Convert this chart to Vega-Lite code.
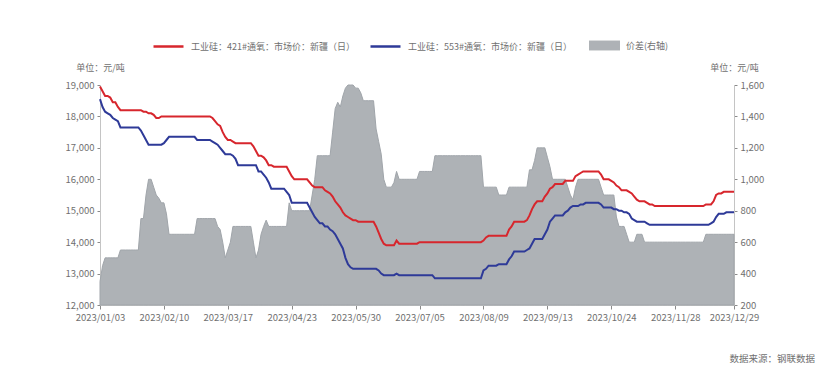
{
"$schema": "https://vega.github.io/schema/vega-lite/v6.json",
"width": 634, "height": 220,
"autosize": "none",
"padding": {"left": 100, "top": 85, "right": 97, "bottom": 66},
"background": "white",
"config": {"font": "Noto Sans CJK SC", "view": {"stroke": null}, "axis": {"grid": false, "labelFontSize": 9.5, "labelColor": "#707070", "domainColor": "#c4c4c4", "tickColor": "#8a8a8a", "tickSize": 3, "titleFontSize": 9, "titleFontWeight": "normal", "titleColor": "#707070"}, "legend": {"labelFontSize": 9, "labelColor": "#707070", "labelOffset": 6, "labelLimit": 400, "title": null, "orient": "none"}},
"title": {"text": "数据来源：钢联数据", "orient": "bottom", "anchor": "end", "frame": "group", "fontSize": 9.5, "fontWeight": "normal", "color": "#707070", "dx": 81, "offset": 32},
"data": {"values": [
{"date":"2023/01/03","p421":18950,"p553":18550,"spread":350},
{"date":"2023/01/04","p421":18800,"p553":18300,"spread":450},
{"date":"2023/01/05","p421":18650,"p553":18150,"spread":500},
{"date":"2023/01/06","p421":18650,"p553":18100,"spread":500},
{"date":"2023/01/09","p421":18600,"p553":18050,"spread":500},
{"date":"2023/01/10","p421":18450,"p553":17950,"spread":500},
{"date":"2023/01/11","p421":18450,"p553":17900,"spread":500},
{"date":"2023/01/12","p421":18300,"p553":17850,"spread":500},
{"date":"2023/01/13","p421":18200,"p553":17650,"spread":550},
{"date":"2023/01/16","p421":18200,"p553":17650,"spread":550},
{"date":"2023/01/17","p421":18200,"p553":17650,"spread":550},
{"date":"2023/01/18","p421":18200,"p553":17650,"spread":550},
{"date":"2023/01/19","p421":18200,"p553":17650,"spread":550},
{"date":"2023/01/20","p421":18200,"p553":17650,"spread":550},
{"date":"2023/01/28","p421":18200,"p553":17650,"spread":550},
{"date":"2023/01/29","p421":18200,"p553":17650,"spread":550},
{"date":"2023/01/30","p421":18200,"p553":17550,"spread":750},
{"date":"2023/01/31","p421":18150,"p553":17400,"spread":750},
{"date":"2023/02/01","p421":18150,"p553":17250,"spread":900},
{"date":"2023/02/02","p421":18100,"p553":17100,"spread":1000},
{"date":"2023/02/03","p421":18100,"p553":17100,"spread":1000},
{"date":"2023/02/06","p421":18050,"p553":17100,"spread":950},
{"date":"2023/02/07","p421":17950,"p553":17100,"spread":900},
{"date":"2023/02/08","p421":17950,"p553":17100,"spread":880},
{"date":"2023/02/09","p421":18000,"p553":17100,"spread":850},
{"date":"2023/02/10","p421":18000,"p553":17150,"spread":850},
{"date":"2023/02/13","p421":18000,"p553":17250,"spread":780},
{"date":"2023/02/14","p421":18000,"p553":17350,"spread":650},
{"date":"2023/02/15","p421":18000,"p553":17350,"spread":650},
{"date":"2023/02/16","p421":18000,"p553":17350,"spread":650},
{"date":"2023/02/17","p421":18000,"p553":17350,"spread":650},
{"date":"2023/02/20","p421":18000,"p553":17350,"spread":650},
{"date":"2023/02/21","p421":18000,"p553":17350,"spread":650},
{"date":"2023/02/22","p421":18000,"p553":17350,"spread":650},
{"date":"2023/02/23","p421":18000,"p553":17350,"spread":650},
{"date":"2023/02/24","p421":18000,"p553":17350,"spread":650},
{"date":"2023/02/27","p421":18000,"p553":17350,"spread":650},
{"date":"2023/02/28","p421":18000,"p553":17350,"spread":650},
{"date":"2023/03/01","p421":18000,"p553":17250,"spread":750},
{"date":"2023/03/02","p421":18000,"p553":17250,"spread":750},
{"date":"2023/03/03","p421":18000,"p553":17250,"spread":750},
{"date":"2023/03/06","p421":18000,"p553":17250,"spread":750},
{"date":"2023/03/07","p421":18000,"p553":17250,"spread":750},
{"date":"2023/03/08","p421":18000,"p553":17250,"spread":750},
{"date":"2023/03/09","p421":17950,"p553":17200,"spread":750},
{"date":"2023/03/10","p421":17850,"p553":17150,"spread":750},
{"date":"2023/03/13","p421":17750,"p553":17100,"spread":700},
{"date":"2023/03/14","p421":17700,"p553":17000,"spread":680},
{"date":"2023/03/15","p421":17500,"p553":16900,"spread":600},
{"date":"2023/03/16","p421":17350,"p553":16800,"spread":500},
{"date":"2023/03/17","p421":17250,"p553":16800,"spread":550},
{"date":"2023/03/20","p421":17250,"p553":16800,"spread":600},
{"date":"2023/03/21","p421":17200,"p553":16750,"spread":700},
{"date":"2023/03/22","p421":17150,"p553":16650,"spread":700},
{"date":"2023/03/23","p421":17150,"p553":16450,"spread":700},
{"date":"2023/03/24","p421":17150,"p553":16450,"spread":700},
{"date":"2023/03/27","p421":17150,"p553":16450,"spread":700},
{"date":"2023/03/28","p421":17150,"p553":16450,"spread":700},
{"date":"2023/03/29","p421":17150,"p553":16450,"spread":700},
{"date":"2023/03/30","p421":17150,"p553":16450,"spread":700},
{"date":"2023/03/31","p421":17050,"p553":16450,"spread":600},
{"date":"2023/04/03","p421":16900,"p553":16450,"spread":500},
{"date":"2023/04/04","p421":16750,"p553":16250,"spread":550},
{"date":"2023/04/06","p421":16750,"p553":16250,"spread":650},
{"date":"2023/04/07","p421":16700,"p553":16150,"spread":700},
{"date":"2023/04/10","p421":16600,"p553":16050,"spread":740},
{"date":"2023/04/11","p421":16450,"p553":15900,"spread":700},
{"date":"2023/04/12","p421":16450,"p553":15700,"spread":700},
{"date":"2023/04/13","p421":16400,"p553":15700,"spread":700},
{"date":"2023/04/14","p421":16400,"p553":15700,"spread":700},
{"date":"2023/04/17","p421":16400,"p553":15700,"spread":700},
{"date":"2023/04/18","p421":16400,"p553":15700,"spread":700},
{"date":"2023/04/19","p421":16400,"p553":15700,"spread":700},
{"date":"2023/04/20","p421":16400,"p553":15600,"spread":700},
{"date":"2023/04/21","p421":16250,"p553":15500,"spread":850},
{"date":"2023/04/23","p421":16100,"p553":15250,"spread":800},
{"date":"2023/04/24","p421":16000,"p553":15250,"spread":800},
{"date":"2023/04/25","p421":16000,"p553":15250,"spread":800},
{"date":"2023/04/26","p421":16000,"p553":15250,"spread":800},
{"date":"2023/04/27","p421":16000,"p553":15250,"spread":800},
{"date":"2023/04/28","p421":16000,"p553":15250,"spread":800},
{"date":"2023/05/04","p421":16000,"p553":15250,"spread":800},
{"date":"2023/05/05","p421":15900,"p553":15100,"spread":800},
{"date":"2023/05/06","p421":15800,"p553":14950,"spread":900},
{"date":"2023/05/08","p421":15750,"p553":14800,"spread":1000},
{"date":"2023/05/09","p421":15750,"p553":14700,"spread":1150},
{"date":"2023/05/10","p421":15750,"p553":14600,"spread":1150},
{"date":"2023/05/11","p421":15750,"p553":14600,"spread":1150},
{"date":"2023/05/12","p421":15650,"p553":14500,"spread":1150},
{"date":"2023/05/15","p421":15600,"p553":14500,"spread":1150},
{"date":"2023/05/16","p421":15550,"p553":14400,"spread":1150},
{"date":"2023/05/17","p421":15450,"p553":14350,"spread":1300},
{"date":"2023/05/18","p421":15300,"p553":14250,"spread":1450},
{"date":"2023/05/19","p421":15200,"p553":14100,"spread":1490},
{"date":"2023/05/22","p421":15100,"p553":13950,"spread":1460},
{"date":"2023/05/23","p421":14950,"p553":13800,"spread":1530},
{"date":"2023/05/24","p421":14850,"p553":13500,"spread":1580},
{"date":"2023/05/25","p421":14800,"p553":13300,"spread":1600},
{"date":"2023/05/26","p421":14750,"p553":13200,"spread":1600},
{"date":"2023/05/29","p421":14700,"p553":13150,"spread":1600},
{"date":"2023/05/30","p421":14700,"p553":13150,"spread":1580},
{"date":"2023/05/31","p421":14650,"p553":13150,"spread":1580},
{"date":"2023/06/01","p421":14650,"p553":13150,"spread":1550},
{"date":"2023/06/02","p421":14650,"p553":13150,"spread":1500},
{"date":"2023/06/05","p421":14650,"p553":13150,"spread":1500},
{"date":"2023/06/06","p421":14650,"p553":13150,"spread":1500},
{"date":"2023/06/07","p421":14650,"p553":13150,"spread":1500},
{"date":"2023/06/08","p421":14650,"p553":13150,"spread":1500},
{"date":"2023/06/09","p421":14500,"p553":13150,"spread":1320},
{"date":"2023/06/12","p421":14300,"p553":13100,"spread":1240},
{"date":"2023/06/13","p421":14100,"p553":13000,"spread":1160},
{"date":"2023/06/14","p421":13950,"p553":12950,"spread":1000},
{"date":"2023/06/15","p421":13900,"p553":12950,"spread":950},
{"date":"2023/06/16","p421":13900,"p553":12950,"spread":950},
{"date":"2023/06/19","p421":13900,"p553":12950,"spread":950},
{"date":"2023/06/20","p421":13900,"p553":12950,"spread":980},
{"date":"2023/06/21","p421":14050,"p553":13000,"spread":1050},
{"date":"2023/06/25","p421":13950,"p553":12950,"spread":1000},
{"date":"2023/06/26","p421":13950,"p553":12950,"spread":1000},
{"date":"2023/06/27","p421":13950,"p553":12950,"spread":1000},
{"date":"2023/06/28","p421":13950,"p553":12950,"spread":1000},
{"date":"2023/06/29","p421":13950,"p553":12950,"spread":1000},
{"date":"2023/06/30","p421":13950,"p553":12950,"spread":1000},
{"date":"2023/07/03","p421":13950,"p553":12950,"spread":1000},
{"date":"2023/07/04","p421":13950,"p553":12950,"spread":1000},
{"date":"2023/07/05","p421":14000,"p553":12950,"spread":1050},
{"date":"2023/07/06","p421":14000,"p553":12950,"spread":1050},
{"date":"2023/07/07","p421":14000,"p553":12950,"spread":1050},
{"date":"2023/07/10","p421":14000,"p553":12950,"spread":1050},
{"date":"2023/07/11","p421":14000,"p553":12950,"spread":1050},
{"date":"2023/07/12","p421":14000,"p553":12950,"spread":1050},
{"date":"2023/07/13","p421":14000,"p553":12850,"spread":1150},
{"date":"2023/07/14","p421":14000,"p553":12850,"spread":1150},
{"date":"2023/07/17","p421":14000,"p553":12850,"spread":1150},
{"date":"2023/07/18","p421":14000,"p553":12850,"spread":1150},
{"date":"2023/07/19","p421":14000,"p553":12850,"spread":1150},
{"date":"2023/07/20","p421":14000,"p553":12850,"spread":1150},
{"date":"2023/07/21","p421":14000,"p553":12850,"spread":1150},
{"date":"2023/07/24","p421":14000,"p553":12850,"spread":1150},
{"date":"2023/07/25","p421":14000,"p553":12850,"spread":1150},
{"date":"2023/07/26","p421":14000,"p553":12850,"spread":1150},
{"date":"2023/07/27","p421":14000,"p553":12850,"spread":1150},
{"date":"2023/07/28","p421":14000,"p553":12850,"spread":1150},
{"date":"2023/07/31","p421":14000,"p553":12850,"spread":1150},
{"date":"2023/08/01","p421":14000,"p553":12850,"spread":1150},
{"date":"2023/08/02","p421":14000,"p553":12850,"spread":1150},
{"date":"2023/08/03","p421":14000,"p553":12850,"spread":1150},
{"date":"2023/08/04","p421":14000,"p553":12850,"spread":1150},
{"date":"2023/08/07","p421":14000,"p553":12850,"spread":1150},
{"date":"2023/08/08","p421":14000,"p553":12850,"spread":1150},
{"date":"2023/08/09","p421":14050,"p553":13100,"spread":950},
{"date":"2023/08/10","p421":14150,"p553":13150,"spread":950},
{"date":"2023/08/11","p421":14200,"p553":13250,"spread":950},
{"date":"2023/08/14","p421":14200,"p553":13250,"spread":950},
{"date":"2023/08/15","p421":14200,"p553":13250,"spread":950},
{"date":"2023/08/16","p421":14200,"p553":13250,"spread":950},
{"date":"2023/08/17","p421":14200,"p553":13300,"spread":900},
{"date":"2023/08/18","p421":14200,"p553":13300,"spread":900},
{"date":"2023/08/21","p421":14200,"p553":13300,"spread":900},
{"date":"2023/08/22","p421":14200,"p553":13300,"spread":900},
{"date":"2023/08/23","p421":14400,"p553":13450,"spread":950},
{"date":"2023/08/24","p421":14500,"p553":13550,"spread":950},
{"date":"2023/08/25","p421":14650,"p553":13700,"spread":950},
{"date":"2023/08/28","p421":14650,"p553":13700,"spread":950},
{"date":"2023/08/29","p421":14650,"p553":13700,"spread":950},
{"date":"2023/08/30","p421":14650,"p553":13700,"spread":950},
{"date":"2023/08/31","p421":14650,"p553":13700,"spread":950},
{"date":"2023/09/01","p421":14700,"p553":13750,"spread":950},
{"date":"2023/09/04","p421":14850,"p553":13800,"spread":1060},
{"date":"2023/09/05","p421":15050,"p553":13950,"spread":1060},
{"date":"2023/09/06","p421":15200,"p553":14100,"spread":1120},
{"date":"2023/09/07","p421":15300,"p553":14100,"spread":1200},
{"date":"2023/09/08","p421":15300,"p553":14100,"spread":1200},
{"date":"2023/09/11","p421":15300,"p553":14100,"spread":1200},
{"date":"2023/09/12","p421":15450,"p553":14250,"spread":1200},
{"date":"2023/09/13","p421":15550,"p553":14400,"spread":1140},
{"date":"2023/09/14","p421":15700,"p553":14650,"spread":1080},
{"date":"2023/09/15","p421":15750,"p553":14750,"spread":1000},
{"date":"2023/09/18","p421":15850,"p553":14850,"spread":1000},
{"date":"2023/09/19","p421":15850,"p553":14850,"spread":1000},
{"date":"2023/09/20","p421":15850,"p553":14850,"spread":1000},
{"date":"2023/09/21","p421":15850,"p553":14850,"spread":1000},
{"date":"2023/09/22","p421":15950,"p553":14950,"spread":1000},
{"date":"2023/09/25","p421":15950,"p553":15000,"spread":950},
{"date":"2023/09/26","p421":15950,"p553":15100,"spread":900},
{"date":"2023/09/27","p421":15950,"p553":15150,"spread":870},
{"date":"2023/09/28","p421":16100,"p553":15150,"spread":950},
{"date":"2023/10/07","p421":16150,"p553":15150,"spread":1000},
{"date":"2023/10/08","p421":16200,"p553":15200,"spread":1000},
{"date":"2023/10/09","p421":16250,"p553":15200,"spread":1000},
{"date":"2023/10/10","p421":16250,"p553":15250,"spread":1000},
{"date":"2023/10/11","p421":16250,"p553":15250,"spread":1000},
{"date":"2023/10/12","p421":16250,"p553":15250,"spread":1000},
{"date":"2023/10/13","p421":16250,"p553":15250,"spread":1000},
{"date":"2023/10/16","p421":16250,"p553":15250,"spread":1000},
{"date":"2023/10/17","p421":16250,"p553":15250,"spread":1000},
{"date":"2023/10/18","p421":16150,"p553":15200,"spread":950},
{"date":"2023/10/19","p421":16000,"p553":15100,"spread":900},
{"date":"2023/10/20","p421":16000,"p553":15100,"spread":900},
{"date":"2023/10/23","p421":16000,"p553":15100,"spread":900},
{"date":"2023/10/24","p421":15950,"p553":15100,"spread":900},
{"date":"2023/10/25","p421":15900,"p553":15050,"spread":900},
{"date":"2023/10/26","p421":15800,"p553":15050,"spread":760},
{"date":"2023/10/27","p421":15750,"p553":15000,"spread":700},
{"date":"2023/10/30","p421":15650,"p553":15000,"spread":700},
{"date":"2023/10/31","p421":15650,"p553":14950,"spread":700},
{"date":"2023/11/01","p421":15650,"p553":14950,"spread":650},
{"date":"2023/11/02","p421":15600,"p553":14900,"spread":600},
{"date":"2023/11/03","p421":15550,"p553":14750,"spread":600},
{"date":"2023/11/06","p421":15450,"p553":14700,"spread":600},
{"date":"2023/11/07","p421":15350,"p553":14650,"spread":650},
{"date":"2023/11/08","p421":15300,"p553":14650,"spread":650},
{"date":"2023/11/09","p421":15300,"p553":14650,"spread":650},
{"date":"2023/11/10","p421":15300,"p553":14650,"spread":600},
{"date":"2023/11/13","p421":15250,"p553":14600,"spread":600},
{"date":"2023/11/14","p421":15200,"p553":14550,"spread":600},
{"date":"2023/11/15","p421":15200,"p553":14550,"spread":600},
{"date":"2023/11/16","p421":15150,"p553":14550,"spread":600},
{"date":"2023/11/17","p421":15150,"p553":14550,"spread":600},
{"date":"2023/11/20","p421":15150,"p553":14550,"spread":600},
{"date":"2023/11/21","p421":15150,"p553":14550,"spread":600},
{"date":"2023/11/22","p421":15150,"p553":14550,"spread":600},
{"date":"2023/11/23","p421":15150,"p553":14550,"spread":600},
{"date":"2023/11/24","p421":15150,"p553":14550,"spread":600},
{"date":"2023/11/27","p421":15150,"p553":14550,"spread":600},
{"date":"2023/11/28","p421":15150,"p553":14550,"spread":600},
{"date":"2023/11/29","p421":15150,"p553":14550,"spread":600},
{"date":"2023/11/30","p421":15150,"p553":14550,"spread":600},
{"date":"2023/12/01","p421":15150,"p553":14550,"spread":600},
{"date":"2023/12/04","p421":15150,"p553":14550,"spread":600},
{"date":"2023/12/05","p421":15150,"p553":14550,"spread":600},
{"date":"2023/12/06","p421":15150,"p553":14550,"spread":600},
{"date":"2023/12/07","p421":15150,"p553":14550,"spread":600},
{"date":"2023/12/08","p421":15150,"p553":14550,"spread":600},
{"date":"2023/12/11","p421":15150,"p553":14550,"spread":600},
{"date":"2023/12/12","p421":15150,"p553":14550,"spread":600},
{"date":"2023/12/13","p421":15150,"p553":14550,"spread":600},
{"date":"2023/12/14","p421":15200,"p553":14550,"spread":650},
{"date":"2023/12/15","p421":15200,"p553":14550,"spread":650},
{"date":"2023/12/18","p421":15200,"p553":14600,"spread":650},
{"date":"2023/12/19","p421":15300,"p553":14650,"spread":650},
{"date":"2023/12/20","p421":15500,"p553":14800,"spread":650},
{"date":"2023/12/21","p421":15550,"p553":14900,"spread":650},
{"date":"2023/12/22","p421":15550,"p553":14900,"spread":650},
{"date":"2023/12/25","p421":15600,"p553":14900,"spread":650},
{"date":"2023/12/26","p421":15600,"p553":14950,"spread":650},
{"date":"2023/12/27","p421":15600,"p553":14950,"spread":650},
{"date":"2023/12/28","p421":15600,"p553":14950,"spread":650},
{"date":"2023/12/29","p421":15600,"p553":14950,"spread":650}
]},
"layer": [
{
"mark": {"type": "area", "stroke": "#a0a5aa", "strokeWidth": 1, "fillOpacity": 1},
"encoding": {
"x": {"field": "date", "type": "ordinal", "scale": {"type": "point", "padding": 0}, "axis": {"title": null, "values": ["2023/01/03","2023/02/10","2023/03/17","2023/04/23","2023/05/30","2023/07/05","2023/08/09","2023/09/13","2023/10/24","2023/11/28","2023/12/29"], "labelAngle": 0, "labelPadding": 3, "tickSize": 4, "labelOverlap": false, "labelBound": false}},
"y": {"field": "spread", "type": "quantitative", "scale": {"domain": [200, 1600], "zero": false, "nice": false}, "axis": {"orient": "right", "values": [200,400,600,800,1000,1200,1400,1600], "format": ",.0f", "title": "单位：元/吨", "titleAngle": 0, "titleX": 0, "titleY": -18, "titleAlign": "center", "titleBaseline": "middle", "labelPadding": 3}},
"y2": {"datum": 200},
"fill": {"datum": "价差(右轴)", "type": "nominal", "scale": {"range": ["#aeb2b6"]}, "legend": {"legendX": 489, "legendY": -55, "symbolType": "M-1,-0.32H1V0.32H-1Z", "symbolSize": 961, "symbolOpacity": 1, "symbolFillColor": "#8f959b", "symbolStrokeWidth": 0}}
}
},
{
"layer": [
{
"mark": {"type": "line", "strokeWidth": 2},
"encoding": {
"x": {"field": "date", "type": "ordinal", "scale": {"type": "point", "padding": 0}},
"y": {"field": "p421", "type": "quantitative", "scale": {"domain": [12000, 19000], "zero": false, "nice": false}, "axis": {"orient": "left", "values": [12000,13000,14000,15000,16000,17000,18000,19000], "format": ",.0f", "title": "单位：元/吨", "titleAngle": 0, "titleX": 0, "titleY": -18, "titleAlign": "center", "titleBaseline": "middle", "labelPadding": 3}},
"stroke": {"datum": "工业硅：421#通氧：市场价：新疆（日）", "type": "nominal", "scale": {"range": ["#d7262d"]}, "legend": {"legendX": 52, "legendY": -55, "symbolType": "stroke", "symbolSize": 900, "symbolStrokeWidth": 2.5}}
}
},
{
"mark": {"type": "line", "strokeWidth": 2},
"encoding": {
"x": {"field": "date", "type": "ordinal", "scale": {"type": "point", "padding": 0}},
"y": {"field": "p553", "type": "quantitative", "scale": {"domain": [12000, 19000], "zero": false, "nice": false}, "axis": {"orient": "left", "values": [12000,13000,14000,15000,16000,17000,18000,19000], "format": ",.0f", "title": "单位：元/吨", "titleAngle": 0, "titleX": 0, "titleY": -18, "titleAlign": "center", "titleBaseline": "middle", "labelPadding": 3}},
"color": {"datum": "工业硅：553#通氧：市场价：新疆（日）", "type": "nominal", "scale": {"range": ["#2e3a98"]}, "legend": {"legendX": 269, "legendY": -55, "symbolType": "stroke", "symbolSize": 900, "symbolStrokeWidth": 2.5}}
}
}
]
}
],
"resolve": {"scale": {"y": "independent"}}
}
